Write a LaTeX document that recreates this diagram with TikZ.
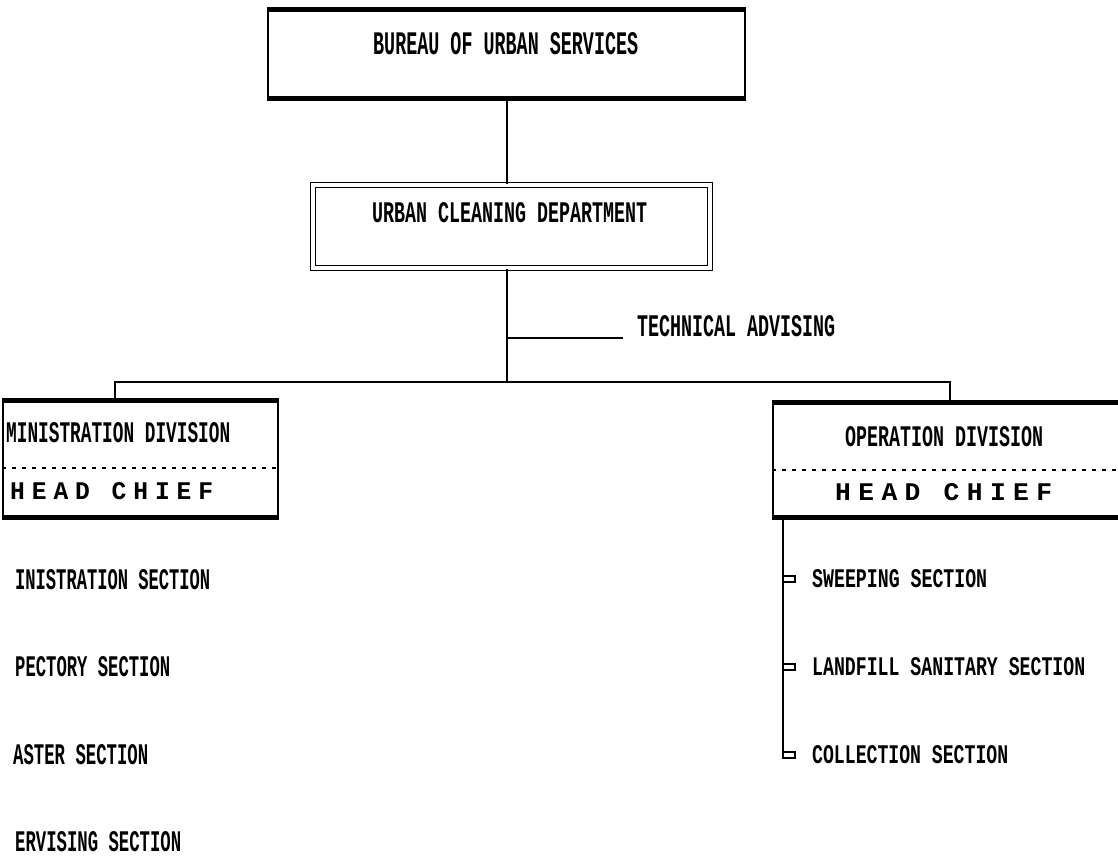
\documentclass[tikz,border=0pt]{standalone}
\usepackage{fontspec}
\usepackage{graphicx}
\newfontfamily\dmfont{Liberation Mono}
\newfontfamily\hdfont[LetterSpace=28]{Liberation Mono}
\newcommand\dmtext[3]{\resizebox{#1pt}{#2pt}{\dmfont\bfseries #3}}
\newcommand\hdtext[3]{\resizebox{#1pt}{#2pt}{\hdfont\bfseries #3}}
\begin{document}
\begin{tikzpicture}[x=1pt,y=-1pt,
  conn/.style={line width=2pt},
  box/.style={draw, line width=2pt, inner sep=0pt},
  band/.style={line width=5pt},
  sep/.style={line width=1.6pt, dash pattern=on 4pt off 6pt},
  lbl/.style={inner sep=0pt, anchor=west},
  marker/.style={draw, line width=1.4pt, minimum width=12pt, minimum height=6pt, inner sep=0pt}]
\useasboundingbox (0,0) rectangle (1118,858);
\clip (0,0) rectangle (1118,858);
\fill[white] (0,0) rectangle (1118,858);

% top box
\node[box, minimum width=477pt, minimum height=87pt] (b1) at (506.5,54.5) {};
\draw[band] (b1.north west) -- (b1.north east);
\draw[band] (b1.south west) -- (b1.south east);
\node[lbl] (t1) at (373,43.5) {\dmtext{265}{22}{BUREAU OF URBAN SERVICES}};

% department box (double frame)
\node[box, line width=1.4pt, double=white, double distance=3.5pt,
      minimum width=397pt, minimum height=83pt] (b2) at (511.5,226.5) {};
\node[lbl] (t2) at (372,213) {\dmtext{275}{20}{URBAN CLEANING DEPARTMENT}};

% technical advising
\node[lbl] (ta) at (637,326) {\dmtext{198}{21}{TECHNICAL ADVISING}};

% left division box
\node[box, minimum width=275pt, minimum height=115pt] (lb) at (140.5,459) {};
\draw[band] (lb.north west) -- (lb.north east);
\draw[band] (lb.south west) -- (lb.south east);
\draw[sep] ([yshift=-9pt]lb.west) -- ([yshift=-9pt]lb.east);
\node[lbl] (lt1) at (6,433) {\dmtext{224}{20}{MINISTRATION DIVISION}};
\node[lbl] (lt2) at (10,491.5) {\hdtext{203}{17}{HEAD CHIEF}};

% right division box
\node[box, minimum width=354pt, minimum height=113pt] (rb) at (950,459.5) {};
\draw[band] (rb.north west) -- (rb.north east);
\draw[band] (rb.south west) -- (rb.south east);
\draw[sep] ([yshift=-10.5pt]rb.west) -- ([yshift=-10.5pt]rb.east);
\node[lbl] (rt1) at (845,437) {\dmtext{198}{20}{OPERATION DIVISION}};
\node[lbl] (rt2) at (835,492) {\hdtext{217}{17}{HEAD CHIEF}};

% left sections
\node[lbl] (ls1) at (15,580) {\dmtext{195}{20}{INISTRATION SECTION}};
\node[lbl] (ls2) at (15,667) {\dmtext{155}{20}{PECTORY SECTION}};
\node[lbl] (ls3) at (13,755) {\dmtext{135}{20}{ASTER SECTION}};
\node[lbl] (ls4) at (15,842) {\dmtext{166}{20}{ERVISING SECTION}};

% right sections
\node[marker] (m1) at (789,579) {};
\node[marker] (m2) at (789,667) {};
\node[marker] (m3) at (789,755) {};
\node[lbl] (rs1) at (812,579) {\dmtext{175}{18}{SWEEPING SECTION}};
\node[lbl] (rs2) at (812,667) {\dmtext{273}{18}{LANDFILL SANITARY SECTION}};
\node[lbl] (rs3) at (812,755) {\dmtext{196}{18}{COLLECTION SECTION}};

% connectors
\draw[conn] (b1.south) -- (b1.south |- b2.north);
\coordinate (j) at (507,382);
\draw[conn] (j |- b2.south) -- (j);
\coordinate (tb) at (507,338);
\coordinate (te) at ([xshift=-14pt]ta.west);
\draw[conn] (tb) -- (tb -| te);
\coordinate (jl) at (115,382);
\draw[conn] (jl |- lb.north) -- (jl) -- (j) -| (rb.north);
\coordinate (rv) at (783,0);
\draw[conn] (rv |- rb.south) -- (rv |- m3.center);
\end{tikzpicture}
\end{document}
